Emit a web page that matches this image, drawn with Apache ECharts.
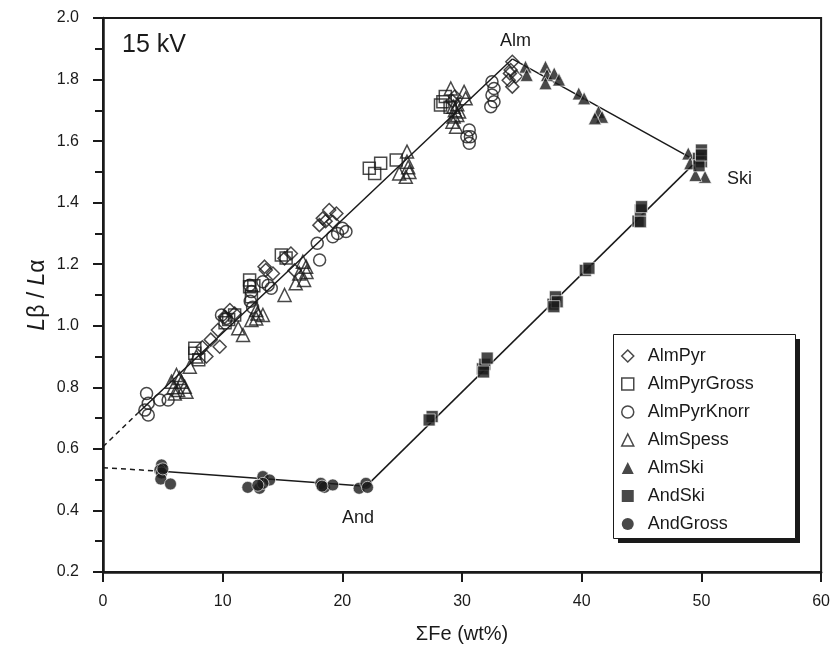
<!DOCTYPE html>
<html>
<head>
<meta charset="utf-8">
<script src="https://cdn.jsdelivr.net/npm/echarts@6/dist/echarts.min.js"></script>
<style>html,body{margin:0;padding:0;background:#fff}#c{width:833px;height:652px}</style>
</head>
<body>
<div id="c"></div>
<script>
// ---- data ----
const xTicks = [0, 10, 20, 30, 40, 50, 60];
const yTicks = [0.2, 0.4, 0.6, 0.8, 1.0, 1.2, 1.4, 1.6, 1.8, 2.0];

const almPyr = [[34.2,1.858],[34.06,1.831],[33.9,1.798],[34.2,1.777],[34.5,1.81],[34.0,1.82],
  [29.2,1.73],[29.4,1.745],
  [18.9,1.376],[18.36,1.349],[18.08,1.327],[19.2,1.338],[19.5,1.365],[18.6,1.34],
  [15.7,1.235],[15.17,1.219],[13.6,1.181],[13.5,1.192],[14.2,1.17],[16.0,1.18],
  [10.6,1.051],[10.17,1.029],[9.6,0.986],[9.75,0.932],[8.64,0.90],[11.0,1.04],[9.0,0.955],[8.3,0.93]];
const almPyrGross = [[28.4,1.728],[28.6,1.745],[28.2,1.717],[29.0,1.71],
  [22.25,1.512],[23.2,1.528],[24.5,1.539],[22.7,1.495],
  [14.9,1.23],[15.3,1.22],
  [12.25,1.149],[12.25,1.127],[12.4,1.094],[12.6,1.13],
  [10.5,1.02],[11.0,1.035],[10.2,1.01],
  [7.67,0.927],[7.67,0.911],[8.0,0.89]];
const almPyrKnorr = [[32.5,1.793],[32.67,1.771],[32.5,1.75],[32.67,1.728],[32.4,1.712],
  [30.6,1.636],[30.4,1.614],[30.6,1.593],[30.7,1.614],
  [20.0,1.317],[20.3,1.306],[19.6,1.30],[19.2,1.289],[17.9,1.268],[18.1,1.214],
  [12.25,1.132],[12.4,1.111],[14.06,1.122],[13.36,1.143],[13.8,1.132],[12.3,1.08],[12.5,1.06],
  [9.9,1.035],[10.3,1.024],
  [3.64,0.78],[3.78,0.748],[3.5,0.726],[3.78,0.71],[4.75,0.759],[5.44,0.759]];
const almSpess = [[29.06,1.771],[30.3,1.739],[30.17,1.76],[29.3,1.712],[29.6,1.685],[29.5,1.647],[29.2,1.663],[29.75,1.696],[29.4,1.70],[29.6,1.72],[29.3,1.68],
  [25.4,1.566],[25.4,1.533],[24.75,1.495],[25.6,1.50],[25.3,1.484],[25.5,1.515],
  [16.7,1.208],[16.97,1.192],[16.4,1.17],[16.1,1.138],[16.8,1.149],[15.17,1.10],[17.0,1.175],
  [12.8,1.051],[13.36,1.035],[12.8,1.024],[12.4,1.019],[12.9,1.04],
  [11.7,0.97],[11.3,0.992],
  [7.8,0.90],[7.25,0.867],
  [6.14,0.84],[5.72,0.818],[6.56,0.818],[6.28,0.791],[6.83,0.802],[6.0,0.78],[6.97,0.786],[6.4,0.83],[5.9,0.80]];
const almSki = [[35.3,1.842],[35.4,1.815],[36.97,1.842],[37.1,1.815],[36.97,1.788],[37.7,1.82],
  [38.1,1.80],[39.75,1.755],[40.2,1.739],[41.4,1.695],[41.7,1.679],[41.1,1.674],
  [48.9,1.56],[49.06,1.528],[50.3,1.484],[49.5,1.49]];
const andSki = [[27.5,0.705],[27.25,0.694],
  [31.7,0.86],[31.9,0.875],[32.1,0.895],[31.8,0.85],
  [37.6,1.07],[37.8,1.094],[37.95,1.078],[37.67,1.062],
  [40.3,1.18],[40.6,1.187],
  [44.7,1.34],[44.9,1.338],[44.9,1.376],[45.0,1.387],
  [49.75,1.544],[50.0,1.571],[50.0,1.533],[49.8,1.52],[50.0,1.555]];
const andGross = [[4.89,0.548],[4.75,0.531],[4.89,0.522],[4.83,0.502],[5.64,0.486],[5.0,0.535],
  [12.1,0.475],[13.08,0.472],[13.36,0.510],[13.92,0.499],[13.36,0.488],[12.94,0.482],
  [18.2,0.488],[18.5,0.475],[19.2,0.483],[18.3,0.479],
  [21.4,0.472],[21.97,0.488],[22.1,0.475]];

// join lines (end members)
const lineAlmLeft = [[2.9,0.716],[34.2,1.867]];
const dashAlmLeft = [[0,0.607],[2.9,0.716]];
const lineAlmSki = [[34.2,1.867],[49.6,1.535]];
const lineAndSki = [[22.0,0.479],[49.6,1.535]];
const lineAndLeft = [[4.6,0.528],[22.0,0.479]];
const dashAndLeft = [[0,0.539],[4.6,0.528]];

const seriesNames = ['AlmPyr','AlmPyrGross','AlmPyrKnorr','AlmSpess','AlmSki','AndSki','AndGross'];

// ---- chart ----
const FONT = 'Liberation Sans, Arial, sans-serif';
const INK = '#1a1a1a';
const openStyle = {color: 'rgba(0,0,0,0)', borderColor: INK, borderWidth: 1.5};
const fillStyle = {color: INK, borderColor: '#fff', borderWidth: 0.8};

function sc(name, data, symbol, size, style, z) {
  return {name, type: 'scatter', data, symbol, symbolSize: size, itemStyle: style, z: z || 3, emphasis: {disabled: true}};
}
function ln(data, dashed) {
  return {type: 'line', data, symbol: 'none', silent: true, z: 2,
    lineStyle: {color: INK, width: 1.5, type: dashed ? [5, 4] : 'solid'}};
}

const chart = echarts.init(document.getElementById('c'), null, {renderer: 'canvas'});
chart.setOption({
  animation: false,
  backgroundColor: '#fff',
  textStyle: {fontFamily: FONT},
  grid: {left: 103, right: 9, top: 18, bottom: 80, show: true, borderColor: INK, borderWidth: 2, backgroundColor: 'transparent'},
  xAxis: {
    type: 'value', min: xTicks[0], max: xTicks[xTicks.length - 1], interval: 10,
    name: 'ΣFe (wt%)', nameLocation: 'middle', nameGap: 52,
    nameTextStyle: {fontSize: 20, color: INK, fontFamily: FONT},
    axisLine: {show: true, onZero: false, lineStyle: {color: INK, width: 2.5}},
    axisTick: {show: true, length: 10, lineStyle: {color: INK, width: 2}},
    axisLabel: {fontSize: 16, color: INK, margin: 22, fontFamily: FONT},
    splitLine: {show: false}
  },
  yAxis: {
    type: 'value', min: yTicks[0], max: yTicks[yTicks.length - 1], interval: 0.2,
    axisLine: {show: true, onZero: false, lineStyle: {color: INK, width: 2.5}},
    axisTick: {show: true, length: 10, lineStyle: {color: INK, width: 2}},
    minorTick: {show: true, splitNumber: 2, length: 8, lineStyle: {color: INK, width: 2}},
    axisLabel: {fontSize: 16, color: INK, margin: 24, fontFamily: FONT, formatter: v => v.toFixed(1)},
    splitLine: {show: false}
  },
  legend: {
    orient: 'vertical', left: 613, top: 334,
    padding: [13, 10, 8, 8],
    itemWidth: 12, itemHeight: 12, itemGap: 10,
    textStyle: {fontSize: 18, color: INK, fontFamily: FONT, padding: [0, 0, 0, 9]},
    selectedMode: false, z: 12,
    data: [
      {name: 'AlmPyr', icon: 'diamond', itemStyle: openStyle},
      {name: 'AlmPyrGross', icon: 'rect', itemStyle: openStyle},
      {name: 'AlmPyrKnorr', icon: 'circle', itemStyle: openStyle},
      {name: 'AlmSpess', icon: 'triangle', itemStyle: openStyle},
      {name: 'AlmSki', icon: 'triangle', itemStyle: {color: INK, borderWidth: 0}},
      {name: 'AndSki', icon: 'rect', itemStyle: {color: INK, borderWidth: 0}},
      {name: 'AndGross', icon: 'circle', itemStyle: {color: INK, borderWidth: 0}}
    ]
  },
  series: [
    ln(lineAlmLeft, false), ln(dashAlmLeft, true), ln(lineAlmSki, false),
    ln(lineAndSki, false), ln(lineAndLeft, false), ln(dashAndLeft, true),
    sc(seriesNames[0], almPyr, 'diamond', 13, openStyle, 3),
    sc(seriesNames[1], almPyrGross, 'rect', 12, openStyle, 3),
    sc(seriesNames[2], almPyrKnorr, 'circle', 12, openStyle, 3),
    sc(seriesNames[3], almSpess, 'triangle', 13, openStyle, 3),
    sc(seriesNames[4], almSki, 'triangle', 13, fillStyle, 4),
    sc(seriesNames[5], andSki, 'rect', 12, fillStyle, 4),
    sc(seriesNames[6], andGross, 'circle', 12, fillStyle, 4)
  ],
  graphic: [
    {type: 'rect', left: 618, top: 339, shape: {width: 182, height: 204}, style: {fill: INK}, z: 8, silent: true},
    {type: 'rect', left: 613, top: 334, shape: {width: 182, height: 204}, style: {fill: '#fff', stroke: INK, lineWidth: 1}, z: 9, silent: true},
    {type: 'text', x: 38, y: 295, rotation: Math.PI / 2, z: 10, silent: true,
      style: {text: '{i|L}β / {i|L}α', fontSize: 23, fontFamily: FONT, fill: INK, align: 'center', verticalAlign: 'middle',
        rich: {i: {fontStyle: 'italic', fontSize: 23, fontFamily: FONT, fill: INK}}}},
    {type: 'text', left: 122, top: 33, style: {text: '15 kV', fontSize: 25, fontFamily: FONT, fill: INK}, z: 10},
    {type: 'text', left: 500, top: 32, style: {text: 'Alm', fontSize: 18, fontFamily: FONT, fill: INK}, z: 10},
    {type: 'text', left: 727, top: 170, style: {text: 'Ski', fontSize: 18, fontFamily: FONT, fill: INK}, z: 10},
    {type: 'text', left: 342, top: 509, style: {text: 'And', fontSize: 18, fontFamily: FONT, fill: INK}, z: 10}
  ]
});
</script>
</body>
</html>
